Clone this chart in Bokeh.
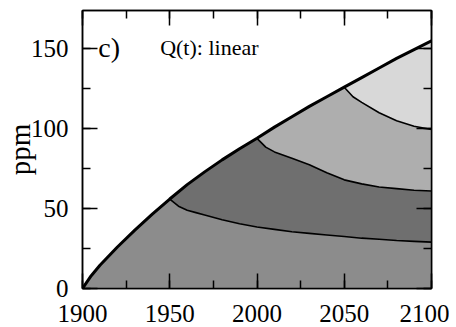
from bokeh.plotting import figure
from bokeh.models import Range1d, SingleIntervalTicker, LinearAxis, Label
from bokeh.embed import file_html
from bokeh.resources import INLINE

# ---- data ----
top_years = [1900, 1905, 1910, 1920, 1930, 1940, 1950, 1960, 1970, 1980, 1990,
             2000, 2010, 2020, 2030, 2040, 2050, 2060, 2070, 2080, 2090, 2100]
top_ppm = [0, 8, 14.5, 26, 36.5, 46.5, 56, 65, 73, 80.5, 87.5,
           94, 101, 107.5, 114, 120, 126, 132, 138, 144, 149.5, 155]

c1950_years = [1950, 1955, 1960, 1965, 1970, 1980, 1990, 2000, 2010, 2020, 2030,
               2040, 2050, 2060, 2070, 2080, 2090, 2100]
c1950_ppm = [56, 51.5, 49, 47.5, 46, 43, 40.5, 38.5, 37, 35.5, 34.5,
             33.5, 32.5, 31.5, 30.8, 30, 29.5, 29]

c2000_years = [2000, 2005, 2010, 2020, 2030, 2040, 2050, 2060, 2070, 2080, 2090, 2100]
c2000_ppm = [94, 88.5, 85.5, 81.5, 77.5, 72.5, 68, 65.5, 63.5, 62.5, 61.5, 61]

c2050_years = [2050, 2055, 2060, 2070, 2080, 2090, 2100]
c2050_ppm = [126, 120, 116.5, 110, 105, 101.5, 99.5]

x_ticks = [1900, 1950, 2000, 2050, 2100]
y_ticks = [0, 50, 100, 150]

fill_colors = ["#8c8c8c", "#6f6f6f", "#aeaeae", "#d8d8d8"]

FONT = "Liberation Serif"


def seg(xs, ys, lo, hi):
    pts = [(x, y) for x, y in zip(xs, ys) if lo <= x <= hi]
    return [p[0] for p in pts], [p[1] for p in pts]


p = figure(frame_width=349, frame_height=278, output_backend="svg", toolbar_location=None,
           x_range=Range1d(1900, 2100), y_range=Range1d(0, 174),
           min_border_left=81, min_border_right=18, min_border_top=10, min_border_bottom=38)
p.grid.visible = False
p.outline_line_color = "black"
p.outline_line_width = 1.5
p.background_fill_color = "white"

# regions
tx, ty = seg(top_years, top_ppm, 1900, 1950)
ax, ay = seg(c1950_years, c1950_ppm, 1950, 2100)
p.patch(tx + ax + [2100, 1900], ty + ay + [0, 0], fill_color=fill_colors[0], line_color=None)

tx, ty = seg(top_years, top_ppm, 1950, 2000)
bx, by = seg(c2000_years, c2000_ppm, 2000, 2100)
p.patch(tx + bx + ax[::-1], ty + by + ay[::-1], fill_color=fill_colors[1], line_color=None)

tx, ty = seg(top_years, top_ppm, 2000, 2050)
cx, cy = seg(c2050_years, c2050_ppm, 2050, 2100)
p.patch(tx + cx + bx[::-1], ty + cy + by[::-1], fill_color=fill_colors[2], line_color=None)

tx, ty = seg(top_years, top_ppm, 2050, 2100)
p.patch(tx + cx[::-1], ty + cy[::-1], fill_color=fill_colors[3], line_color=None)

# lines
p.line(c1950_years, c1950_ppm, line_color="black", line_width=1.6)
p.line(c2000_years, c2000_ppm, line_color="black", line_width=1.6)
p.line(c2050_years, c2050_ppm, line_color="black", line_width=1.6)
p.line(top_years, top_ppm, line_color="black", line_width=3)


def style_axis(ax_, labels):
    ax_.major_tick_in = 15
    ax_.major_tick_out = 0
    ax_.minor_tick_in = 8
    ax_.minor_tick_out = 0
    ax_.major_tick_line_width = 1.5
    ax_.minor_tick_line_width = 1.5
    ax_.major_tick_line_color = "black"
    ax_.minor_tick_line_color = "black"
    ax_.axis_line_color = "black"
    ax_.axis_line_width = 1.5
    ax_.major_label_text_font = FONT
    ax_.major_label_text_font_size = "25px"
    ax_.major_label_text_color = "black"
    ax_.major_label_overrides = labels


xt = SingleIntervalTicker(interval=50, num_minor_ticks=2)
yt = SingleIntervalTicker(interval=50, num_minor_ticks=2)
p.xaxis.ticker = xt
p.yaxis.ticker = yt
style_axis(p.xaxis[0], {t: str(t) for t in x_ticks})
style_axis(p.yaxis[0], {t: str(t) for t in y_ticks})
p.xaxis.major_label_standoff = 16
p.yaxis.major_label_standoff = 14

p.yaxis.axis_label = "ppm"
p.yaxis.axis_label_text_font = FONT
p.yaxis.axis_label_text_font_size = "29px"
p.yaxis.axis_label_text_font_style = "normal"
p.yaxis.axis_label_text_color = "black"
p.yaxis.axis_label_standoff = -8

top_ax = LinearAxis(ticker=SingleIntervalTicker(interval=50, num_minor_ticks=2))
right_ax = LinearAxis(ticker=SingleIntervalTicker(interval=50, num_minor_ticks=2))
style_axis(top_ax, {t: "" for t in x_ticks})
style_axis(right_ax, {t: "" for t in y_ticks})
top_ax.major_label_standoff = 0
right_ax.major_label_standoff = 0
p.add_layout(top_ax, "above")
p.add_layout(right_ax, "right")

p.add_layout(Label(x=1909, y=141, text="c)", text_font=FONT, text_font_size="28px",
                   text_color="black"))
p.add_layout(Label(x=1944.5, y=143, text="Q(t): linear", text_font=FONT,
                   text_font_size="22px", text_color="black"))

open("out.html", "w").write(file_html(p, INLINE))
